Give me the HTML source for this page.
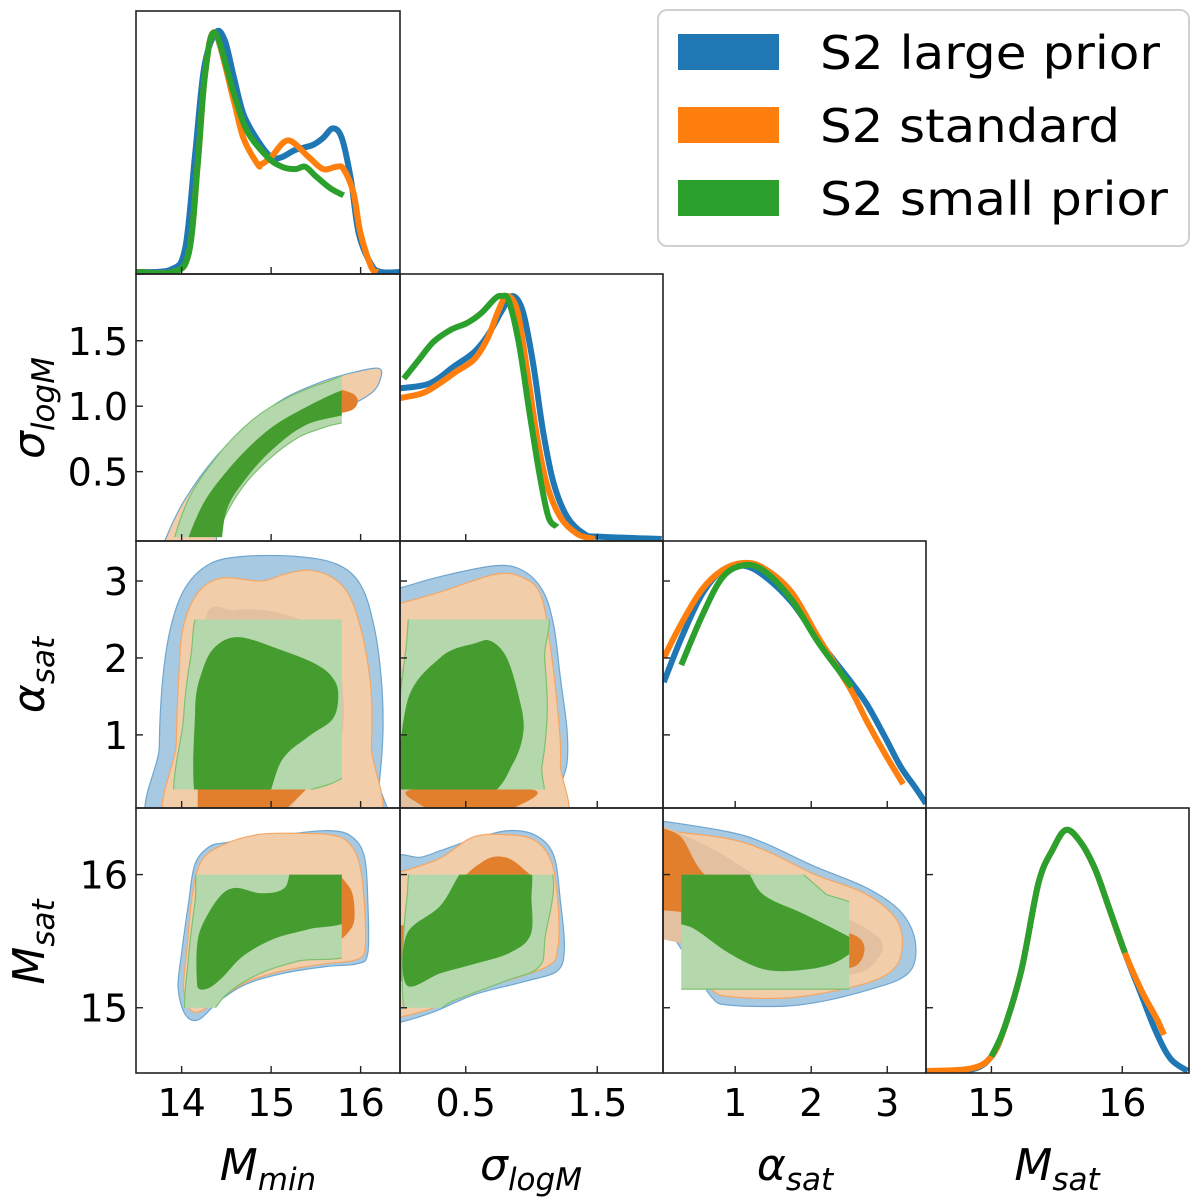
<!DOCTYPE html>
<html><head><meta charset="utf-8"><style>
html,body{margin:0;padding:0;background:#fff}
svg{display:block}
text{font-family:"DejaVu Sans","Liberation Sans",sans-serif;fill:#000}
</style></head><body>
<svg id="fig" width="1200" height="1200" viewBox="0 0 1200 1200" xmlns="http://www.w3.org/2000/svg">
<defs id="defs"></defs>
<g id="fills"></g><g id="lines"></g><g id="frames"></g><g id="labels"></g>
<g id="legend">
<rect x="658" y="10" width="531" height="236" rx="9" fill="#fff" stroke="#d0d0d0" stroke-width="2"/>
<rect x="678" y="34" width="101" height="36" fill="#1f77b4"/>
<text x="820" y="69" font-size="46" textLength="340" lengthAdjust="spacingAndGlyphs">S2 large prior</text>
<rect x="678" y="107" width="101" height="36" fill="#ff7f0e"/>
<text x="820" y="142" font-size="46" textLength="300" lengthAdjust="spacingAndGlyphs">S2 standard</text>
<rect x="678" y="180" width="101" height="36" fill="#2ca02c"/>
<text x="820" y="215" font-size="46" textLength="348" lengthAdjust="spacingAndGlyphs">S2 small prior</text>
</g>
</svg>
<script>
// ---- axis definitions (data ranges) ----
const colRange = [[13.49,16.44],[0.0,2.0],[0.05,3.51],[14.5,16.51]];
const rowRange = [null,[-0.03,2.01],[0.05,3.52],[14.51,16.5]];
const xTicks = [[14,15,16],[0.5,1.5],[1,2,3],[15,16]];
const xTickLabels = [["14","15","16"],["0.5","1.5"],["1","2","3"],["15","16"]];
const yTicks = [null,[0.5,1.0,1.5],[1,2,3],[15,16]];
const yTickLabels = [null,["0.5","1.0","1.5"],["1","2","3"],["15","16"]];
// prior box of the small-prior run
const boxLo = [13.0,0.0,0.29,15.0];
const boxHi = [15.79,3.0,2.5,16.0];

// ---- 1D marginals ----
const mminX_blue = [13.49,13.88,14.04,14.15,14.25,14.38,14.48,14.58,14.69,14.85,15.0,15.12,15.27,15.46,15.58,15.69,15.79,15.89,15.98,16.12,16.23,16.44];
const mminD_blue = [0,0.01,0.10,0.49,0.85,1.0,0.97,0.82,0.66,0.55,0.48,0.48,0.51,0.53,0.56,0.60,0.56,0.39,0.16,0.03,0,0];
const mminX_orange = [13.49,13.9,14.08,14.18,14.26,14.37,14.58,14.69,14.85,14.89,15.0,15.19,15.42,15.58,15.73,15.81,15.92,16.0,16.12,16.19];
const mminD_orange = [0,0,0.08,0.45,0.82,1.0,0.72,0.56,0.45,0.45,0.48,0.55,0.48,0.43,0.44,0.43,0.33,0.16,0.02,0];
const mminX_green = [13.49,13.9,14.08,14.18,14.26,14.37,14.58,14.73,14.96,15.12,15.27,15.38,15.5,15.66,15.81];
const mminD_green = [0,0,0.08,0.45,0.82,1.0,0.75,0.59,0.48,0.44,0.43,0.44,0.40,0.35,0.32];

const sigX_blue = [0.0,0.225,0.41,0.565,0.67,0.775,0.853,0.932,1.01,1.089,1.168,1.272,1.403,1.508,1.99];
const sigD_blue = [0.62,0.64,0.71,0.77,0.84,0.94,1.0,0.94,0.73,0.44,0.23,0.09,0.02,0.01,0];
const sigX_orange = [0.0,0.17,0.30,0.43,0.565,0.67,0.748,0.814,0.892,0.957,1.036,1.114,1.219,1.35,1.48];
const sigD_orange = [0.58,0.60,0.64,0.69,0.74,0.83,0.94,1.0,0.94,0.73,0.44,0.23,0.09,0.02,0];
const sigX_green = [0.029,0.147,0.252,0.383,0.513,0.618,0.723,0.776,0.827,0.906,0.985,1.063,1.129,1.194];
const sigD_green = [0.66,0.74,0.81,0.86,0.89,0.93,0.99,1.0,0.98,0.80,0.52,0.26,0.09,0.05];

const alpX_blue = [0.06,0.29,0.56,0.83,1.1,1.37,1.74,2.10,2.5,2.73,2.96,3.18,3.36,3.51];
const alpD_blue = [0.51,0.69,0.87,0.97,0.99,0.95,0.84,0.68,0.52,0.42,0.29,0.16,0.08,0.01];
const alpX_orange = [0.06,0.29,0.56,0.83,1.1,1.37,1.74,2.10,2.5,2.73,2.96,3.21];
const alpD_orange = [0.61,0.75,0.89,0.97,1.0,0.98,0.88,0.69,0.49,0.35,0.22,0.09];
const alpX_green = [0.29,0.56,0.83,1.1,1.37,1.74,2.10,2.53];
const alpD_green = [0.58,0.78,0.94,0.99,0.97,0.85,0.67,0.49];

const msatX_blue = [14.5,14.84,15.0,15.10,15.23,15.36,15.47,15.57,15.68,15.79,15.89,16.02,16.15,16.26,16.37,16.50];
const msatD_blue = [0,0.005,0.06,0.18,0.42,0.78,0.92,1.0,0.95,0.84,0.69,0.49,0.31,0.16,0.05,0];
const msatX_orange = [14.5,14.84,15.0,15.10,15.23,15.36,15.47,15.57,15.68,15.79,15.89,16.02,16.15,16.26,16.32];
const msatD_orange = [0,0.01,0.06,0.18,0.42,0.78,0.92,1.0,0.95,0.84,0.69,0.49,0.33,0.22,0.15];
const msatX_green = [15.0,15.10,15.23,15.36,15.47,15.57,15.68,15.79,15.89,16.02];
const msatD_green = [0.06,0.18,0.42,0.78,0.92,1.0,0.95,0.84,0.69,0.49];

// ---- 2D credible contours (data coords: [x, y]) ----
const c10_outer = [[13.75,-0.2],[13.83,0.0],[14.04,0.29],[14.38,0.61],[14.77,0.87],[15.15,1.06],[15.58,1.19],[15.93,1.26],[16.19,1.29],[16.23,1.23],[16.12,1.10],[15.74,0.95],[15.34,0.79],[14.96,0.61],[14.70,0.42],[14.42,0.16],[14.32,-0.2]];
const c10_glight = [[13.9,-0.2],[14.05,0.25],[14.4,0.62],[14.8,0.9],[15.2,1.07],[15.6,1.18],[16.0,1.25],[16.05,0.95],[15.6,0.84],[15.3,0.76],[14.95,0.58],[14.68,0.38],[14.45,0.1],[14.36,-0.2]];
const c10_gdark = [[14.02,-0.2],[14.2,0.2],[14.5,0.5],[14.9,0.78],[15.3,0.96],[15.9,1.14],[15.95,0.97],[15.4,0.86],[15.0,0.66],[14.7,0.43],[14.5,0.2],[14.38,-0.2]];
const c10_odark = [[15.7,1.12],[15.9,1.1],[15.97,1.04],[15.9,0.97],[15.7,0.96]];

const c20_blue = [[13.77,-0.3],[13.75,0.85],[13.79,1.74],[13.88,2.41],[14.04,2.91],[14.31,3.22],[14.69,3.32],[15.27,3.32],[15.73,3.22],[16.0,2.95],[16.15,2.41],[16.23,1.74],[16.25,1.07],[16.21,0.40],[16.12,-0.3]];
const c20_orange = [[13.94,-0.3],[13.94,0.9],[13.97,1.8],[14.02,2.41],[14.19,2.86],[14.46,3.04],[14.89,3.0],[15.15,3.09],[15.42,3.14],[15.69,3.04],[15.89,2.77],[16.04,2.19],[16.12,1.52],[16.12,0.85],[16.08,-0.3]];
const c20_ogray = [[14.25,2.4],[14.6,2.62],[15.1,2.58],[15.6,2.3],[15.8,1.6],[15.75,0.8],[15.4,0.35],[15.05,-0.1],[14.3,-0.1]];
const c20_odark = [[14.18,-0.1],[14.18,0.29],[15.2,0.29],[15.6,0.95],[15.75,0.85],[15.4,0.3],[15.05,-0.1]];
const c20_glight = [[14.0,0.0],[14.02,1.2],[14.1,2.0],[14.25,2.7],[15.0,2.8],[16.0,2.7],[16.0,0.75],[15.23,0.22]];
const c20_gdark = [[14.2,0.0],[14.15,1.30],[14.23,1.83],[14.38,2.15],[14.65,2.27],[15.12,2.10],[15.50,1.92],[15.69,1.74],[15.75,1.52],[15.69,1.21],[15.42,0.98],[15.12,0.67],[14.85,0.0]];

const c30_blue = [[13.96,15.15],[14.0,15.41],[14.08,15.80],[14.15,16.08],[14.31,16.21],[14.5,16.24],[14.85,16.27],[15.27,16.31],[15.65,16.33],[15.89,16.29],[16.04,16.14],[16.08,15.80],[16.08,15.41],[15.96,15.33],[15.62,15.31],[15.15,15.26],[14.73,15.18],[14.42,15.05],[14.19,14.91],[14.04,14.95]];
const c30_orange = [[14.02,15.15],[14.06,15.45],[14.12,15.85],[14.22,16.1],[14.45,16.22],[14.85,16.30],[15.3,16.31],[15.65,16.30],[15.85,16.25],[15.98,16.1],[16.04,15.8],[16.05,15.45],[15.95,15.36],[15.6,15.33],[15.15,15.28],[14.75,15.2],[14.45,15.08],[14.2,14.97],[14.08,15.0]];
const c30_odark = [[15.7,15.98],[15.88,15.9],[15.93,15.75],[15.9,15.6],[15.7,15.52]];
const c30_glight = [[14.25,16.3],[15.0,16.2],[16.0,16.2],[16.0,15.46],[15.3,15.35],[14.85,15.25],[14.5,15.1],[14.25,14.9],[14.04,14.95],[14.08,15.4],[14.15,15.8]];
const c30_gdark = [[14.17,15.2],[14.17,15.45],[14.23,15.62],[14.42,15.83],[14.6,15.9],[14.89,15.86],[15.15,15.9],[15.3,16.1],[15.9,16.1],[15.9,15.68],[15.42,15.59],[15.04,15.52],[14.69,15.39],[14.46,15.23],[14.31,15.15],[14.2,15.14]];

const c21_blue = [[-0.2,2.85],[0.0,2.91],[0.31,3.06],[0.73,3.2],[0.94,3.13],[1.09,2.86],[1.17,2.41],[1.22,1.74],[1.27,1.07],[1.27,0.63],[1.22,0.31],[1.17,-0.3],[-0.2,-0.3]];
const c21_orange = [[-0.2,2.65],[0.0,2.71],[0.31,2.86],[0.73,3.09],[0.94,3.04],[1.07,2.82],[1.14,2.19],[1.2,1.30],[1.22,0.63],[1.17,-0.3],[-0.2,-0.3]];
const c21_ogray = [[-0.1,1.6],[0.35,2.2],[0.6,2.45],[0.85,2.3],[1.0,1.7],[1.03,1.0],[0.92,0.4],[0.7,-0.1],[-0.1,-0.1]];
const c21_odark = [[0.1,0.29],[1.0,0.29],[0.9,0.08],[0.7,0.03],[0.3,0.03],[0.15,0.1]];
const c21_odark2 = [[-0.1,0.29],[0.05,0.29],[0.05,1.74],[-0.1,1.74]];
const c21_glight = [[0.05,2.2],[0.2,2.7],[1.06,2.7],[1.1,2.0],[1.12,1.3],[1.08,0.6],[1.0,0.1],[0.05,0.1]];
const c21_gdark = [[0.05,1.4],[0.31,2.01],[0.57,2.19],[0.69,2.22],[0.81,2.01],[0.90,1.52],[0.94,1.07],[0.86,0.63],[0.65,0.2],[0.05,0.1]];

const c31_blue = [[-0.2,16.12],[0.0,16.15],[0.15,16.13],[0.31,16.18],[0.57,16.27],[0.83,16.33],[1.04,16.29],[1.17,16.14],[1.22,15.80],[1.25,15.46],[1.20,15.28],[0.96,15.2],[0.57,15.1],[0.26,14.97],[0.0,14.89],[-0.2,14.85]];
const c31_orange = [[-0.2,15.98],[0.0,16.02],[0.3,16.12],[0.55,16.28],[0.8,16.3],[1.02,16.26],[1.15,16.1],[1.2,15.8],[1.2,15.45],[1.1,15.3],[0.57,15.13],[0.26,15.0],[0.0,14.93],[-0.2,14.9]];
const c31_odark = [[0.5,15.95],[0.65,16.11],[0.8,16.13],[0.93,16.05],[0.98,15.95]];
const c31_odark2 = [[-0.1,15.2],[0.05,15.2],[0.05,15.62],[-0.1,15.62]];
const c31_glight = [[0.05,15.8],[0.2,16.1],[1.1,16.1],[1.1,15.5],[1.05,15.3],[0.8,15.2],[0.4,15.05],[0.05,14.9]];
const c31_gdark = [[0.05,15.55],[0.31,15.77],[0.55,16.1],[0.96,16.1],[1.0,15.8],[0.99,15.54],[0.83,15.41],[0.57,15.33],[0.31,15.26],[0.05,15.17]];

const c32_blue = [[-0.3,16.42],[0.06,16.40],[0.92,16.32],[1.37,16.24],[2.05,16.06],[2.73,15.90],[3.18,15.72],[3.37,15.49],[3.28,15.26],[2.73,15.13],[1.82,15.02],[0.92,15.02],[0.69,15.08],[0.47,15.28],[0.20,15.52],[0.06,15.62],[-0.3,15.7]];
const c32_orange = [[-0.3,16.35],[0.06,16.33],[0.9,16.27],[1.4,16.18],[2.05,16.0],[2.7,15.86],[3.1,15.68],[3.2,15.49],[3.1,15.3],[2.7,15.18],[1.8,15.08],[1.0,15.08],[0.7,15.13],[0.5,15.32],[0.2,15.55],[0.06,15.66],[-0.3,15.72]];
const c32_ogray = [[-0.2,16.33],[0.5,16.25],[1.5,15.92],[2.3,15.72],[2.9,15.52],[2.85,15.35],[2.5,15.25],[1.5,15.27],[0.6,15.45],[-0.2,15.62]];
const c32_odark = [[-0.2,16.3],[0.25,16.3],[0.6,16.0],[1.3,15.75],[2.0,15.62],[2.55,15.55],[2.7,15.45],[2.6,15.32],[2.3,15.3],[1.5,15.35],[0.9,15.5],[0.4,15.7],[-0.2,15.8]];
const c32_glight = [[0.1,16.1],[1.7,16.1],[2.2,15.85],[2.6,15.78],[2.6,15.14],[0.1,15.14]];
const c32_gdark = [[0.1,16.1],[1.0,16.1],[1.37,15.85],[1.92,15.70],[2.6,15.5],[2.6,15.45],[2.28,15.33],[1.82,15.28],[1.37,15.29],[0.92,15.41],[0.47,15.59],[0.1,15.7]];

// ---- geometry ----
const colPx = [[136,400],[400,663],[663,926],[926,1189]];
const rowPx = [[11,274],[274,541],[541,808],[808,1073]];
function sx(c,v){const r=colRange[c],p=colPx[c];return p[0]+(v-r[0])/(r[1]-r[0])*(p[1]-p[0]);}
function sy(rw,v){const r=rowRange[rw],p=rowPx[rw];return p[1]-(v-r[0])/(r[1]-r[0])*(p[1]-p[0]);}
function sd(rw,d){const p=rowPx[rw];return p[1]-2-d*0.91*(p[1]-p[0]);}

const NS="http://www.w3.org/2000/svg";
function mk(tag,attrs,parent){const e=document.createElementNS(NS,tag);for(const k in attrs)e.setAttribute(k,attrs[k]);parent.appendChild(e);return e;}
const defs=document.getElementById('defs'),fills=document.getElementById('fills'),lines=document.getElementById('lines'),frames=document.getElementById('frames'),labels=document.getElementById('labels');

function smoothPath(pts,closed){
  const n=pts.length;let d="M"+pts[0][0].toFixed(1)+","+pts[0][1].toFixed(1);
  const get=i=>closed?pts[(i+n)%n]:pts[Math.max(0,Math.min(n-1,i))];
  const segs=closed?n:n-1;
  for(let i=0;i<segs;i++){
    const p0=get(i-1),p1=get(i),p2=get(i+1),p3=get(i+2);
    const c1=[p1[0]+(p2[0]-p0[0])/6,p1[1]+(p2[1]-p0[1])/6];
    const c2=[p2[0]-(p3[0]-p1[0])/6,p2[1]-(p3[1]-p1[1])/6];
    d+="C"+c1[0].toFixed(1)+","+c1[1].toFixed(1)+" "+c2[0].toFixed(1)+","+c2[1].toFixed(1)+" "+p2[0].toFixed(1)+","+p2[1].toFixed(1);
  }
  return d+(closed?"Z":"");
}
function polyPath(pts){return "M"+pts.map(p=>p[0].toFixed(1)+","+p[1].toFixed(1)).join("L")+"Z";}

for(let r=0;r<4;r++)for(let c=0;c<=r;c++){
  const cp=mk('clipPath',{id:'cp'+r+c},defs);
  mk('rect',{x:colPx[c][0],y:rowPx[r][0],width:colPx[c][1]-colPx[c][0],height:rowPx[r][1]-rowPx[r][0]},cp);
  if(r>c){
    const bp=mk('clipPath',{id:'bx'+r+c},defs);
    const x0=Math.max(sx(c,boxLo[c]),colPx[c][0]),x1=Math.min(sx(c,boxHi[c]),colPx[c][1]);
    const y0=Math.max(sy(r,boxHi[r]),rowPx[r][0]),y1=Math.min(sy(r,boxLo[r]),rowPx[r][1]);
    mk('rect',{x:x0,y:y0,width:x1-x0,height:y1-y0},bp);
  }
}

const COL={blueL:"#a7c9e2",blueE:"#6fa6d0",orL:"#f2cda9",orE:"#f5a763",orG:"#e2c0a0",orD:"#e17f2c",grL:"#b4d8ab",grE:"#7cc170",grD:"#459d2f"};
function contour(r,c,pts,fill,stroke,name,opts){
  opts=opts||{};
  const g=mk('g',{'clip-path':'url(#'+(opts.box?'bx':'cp')+r+c+')'},fills);
  const gi=opts.box?mk('g',{'clip-path':'url(#cp'+r+c+')'},g):g;
  const px=pts.map(p=>[sx(c,p[0]),sy(r,p[1])]);
  const el=mk('path',{d:opts.poly?polyPath(px):smoothPath(px,true),fill:fill,stroke:stroke||'none','stroke-width':1.2},gi);
  
  
}

contour(1,0,c10_outer,COL.orL,COL.blueE,'contour-mmin-sigma-outer');
contour(1,0,c10_odark,COL.orD,null,'contour-mmin-sigma-orange-1sigma');
contour(1,0,c10_glight,COL.grL,COL.grE,'contour-mmin-sigma-green-2sigma',{box:1});
contour(1,0,c10_gdark,COL.grD,null,'contour-mmin-sigma-green-1sigma',{box:1});
contour(2,0,c20_blue,COL.blueL,COL.blueE,'contour-mmin-alpha-blue-2sigma');
contour(2,0,c20_orange,COL.orL,COL.orE,'contour-mmin-alpha-orange-2sigma');
contour(2,0,c20_ogray,COL.orG,null,'contour-mmin-alpha-gray-1sigma');
contour(2,0,c20_odark,COL.orD,null,'contour-mmin-alpha-orange-1sigma',{poly:1});
contour(2,0,c20_glight,COL.grL,COL.grE,'contour-mmin-alpha-green-2sigma',{box:1});
contour(2,0,c20_gdark,COL.grD,null,'contour-mmin-alpha-green-1sigma',{box:1});
contour(3,0,c30_blue,COL.blueL,COL.blueE,'contour-mmin-msat-blue-2sigma');
contour(3,0,c30_orange,COL.orL,COL.orE,'contour-mmin-msat-orange-2sigma');
contour(3,0,c30_odark,COL.orD,null,'contour-mmin-msat-orange-1sigma');
contour(3,0,c30_glight,COL.grL,COL.grE,'contour-mmin-msat-green-2sigma',{box:1});
contour(3,0,c30_gdark,COL.grD,null,'contour-mmin-msat-green-1sigma',{box:1});
contour(2,1,c21_blue,COL.blueL,COL.blueE,'contour-sigma-alpha-blue-2sigma');
contour(2,1,c21_orange,COL.orL,COL.orE,'contour-sigma-alpha-orange-2sigma');
contour(2,1,c21_ogray,COL.orG,null,'contour-sigma-alpha-gray-1sigma');
contour(2,1,c21_odark,COL.orD,null,'contour-sigma-alpha-orange-1sigma');
contour(2,1,c21_odark2,COL.orD,null,'contour-sigma-alpha-orange-1sigma-edge',{poly:1});
contour(2,1,c21_glight,COL.grL,COL.grE,'contour-sigma-alpha-green-2sigma',{box:1});
contour(2,1,c21_gdark,COL.grD,null,'contour-sigma-alpha-green-1sigma',{box:1});
contour(3,1,c31_blue,COL.blueL,COL.blueE,'contour-sigma-msat-blue-2sigma');
contour(3,1,c31_orange,COL.orL,COL.orE,'contour-sigma-msat-orange-2sigma');
contour(3,1,c31_odark,COL.orD,null,'contour-sigma-msat-orange-1sigma');
contour(3,1,c31_odark2,COL.orD,null,'contour-sigma-msat-orange-1sigma-edge',{poly:1});
contour(3,1,c31_glight,COL.grL,COL.grE,'contour-sigma-msat-green-2sigma',{box:1});
contour(3,1,c31_gdark,COL.grD,null,'contour-sigma-msat-green-1sigma',{box:1});
contour(3,2,c32_blue,COL.blueL,COL.blueE,'contour-alpha-msat-blue-2sigma');
contour(3,2,c32_orange,COL.orL,COL.orE,'contour-alpha-msat-orange-2sigma');
contour(3,2,c32_ogray,COL.orG,null,'contour-alpha-msat-gray-1sigma');
contour(3,2,c32_odark,COL.orD,null,'contour-alpha-msat-orange-1sigma');
contour(3,2,c32_glight,COL.grL,COL.grE,'contour-alpha-msat-green-2sigma',{box:1,poly:1});
contour(3,2,c32_gdark,COL.grD,null,'contour-alpha-msat-green-1sigma',{box:1});

function curve(i,xs,ds,color,name){
  const g=mk('g',{'clip-path':'url(#cp'+i+i+')'},lines);
  const px=xs.map((x,k)=>[sx(i,x),sd(i,ds[k])]);
  const el=mk('path',{d:smoothPath(px,false),fill:'none',stroke:color,'stroke-width':6,'stroke-linejoin':'round'},g);
  
  
}
curve(0,mminX_blue,mminD_blue,"#1f77b4",'mmin-density-large-prior');
curve(0,mminX_orange,mminD_orange,"#ff7f0e",'mmin-density-standard');
curve(0,mminX_green,mminD_green,"#2ca02c",'mmin-density-small-prior');
curve(1,sigX_blue,sigD_blue,"#1f77b4",'sigma-density-large-prior');
curve(1,sigX_orange,sigD_orange,"#ff7f0e",'sigma-density-standard');
curve(1,sigX_green,sigD_green,"#2ca02c",'sigma-density-small-prior');
curve(2,alpX_blue,alpD_blue,"#1f77b4",'alpha-density-large-prior');
curve(2,alpX_orange,alpD_orange,"#ff7f0e",'alpha-density-standard');
curve(2,alpX_green,alpD_green,"#2ca02c",'alpha-density-small-prior');
curve(3,msatX_blue,msatD_blue,"#1f77b4",'msat-density-large-prior');
curve(3,msatX_orange,msatD_orange,"#ff7f0e",'msat-density-standard');
curve(3,msatX_green,msatD_green,"#2ca02c",'msat-density-small-prior');

for(let r=0;r<4;r++)for(let c=0;c<=r;c++){
  const f=mk('rect',{x:colPx[c][0],y:rowPx[r][0],width:colPx[c][1]-colPx[c][0],height:rowPx[r][1]-rowPx[r][0],fill:'none',stroke:'#222','stroke-width':1.6},frames);
  
  
  xTicks[c].forEach(v=>{const x=sx(c,v);mk('line',{x1:x,x2:x,y1:rowPx[r][1],y2:rowPx[r][1]-7,stroke:'#222','stroke-width':1.4},frames);});
  if(r>0&&(c<r||r>=2))yTicks[r].forEach(v=>{const y=sy(r,v);mk('line',{x1:colPx[c][0],x2:colPx[c][0]+7,y1:y,y2:y,stroke:'#222','stroke-width':1.4},frames);});
}
for(let c=0;c<4;c++)xTicks[c].forEach((v,k)=>{
  const t=mk('text',{x:sx(c,v),y:1116,'font-size':38,'text-anchor':'middle'},labels);
  t.textContent=xTickLabels[c][k];
  
  
});
for(let r=1;r<4;r++)yTicks[r].forEach((v,k)=>{
  const t=mk('text',{x:128,y:sy(r,v)+14,'font-size':38,'text-anchor':'end'},labels);
  t.textContent=yTickLabels[r][k];
  
  
});
</script>
<script>
(function(){
  const NS="http://www.w3.org/2000/svg",labels=document.getElementById('labels');
  const xt=[["M","min",268],["σ","logM",531],["α","sat",795],["M","sat",1057]];
  xt.forEach(function(a){
    const t=document.createElementNS(NS,'text');
    t.setAttribute('x',a[2]);t.setAttribute('y',1180);t.setAttribute('font-size',44);
    t.setAttribute('font-style','italic');t.setAttribute('text-anchor','middle');
    t.innerHTML=a[0]+'<tspan font-size="31" dy="10">'+a[1]+'</tspan>';
    
    
    labels.appendChild(t);
  });
  const yt=[["σ","logM",408],["α","sat",675],["M","sat",942]];
  yt.forEach(function(a){
    const t=document.createElementNS(NS,'text');
    t.setAttribute('transform','translate(44,'+a[2]+') rotate(-90)');
    t.setAttribute('font-size',44);t.setAttribute('font-style','italic');t.setAttribute('text-anchor','middle');
    t.innerHTML=a[0]+'<tspan font-size="31" dy="10">'+a[1]+'</tspan>';
    
    
    labels.appendChild(t);
  });
})();
</script>
</body></html>
